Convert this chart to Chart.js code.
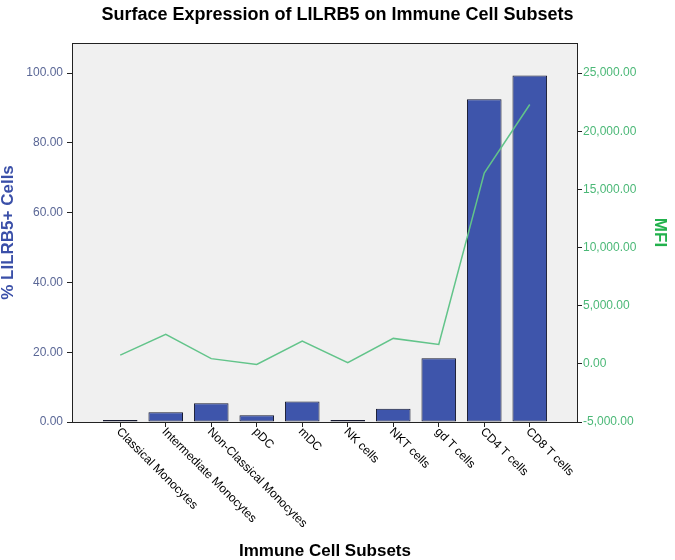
<!DOCTYPE html>
<html>
<head>
<meta charset="utf-8">
<script src="https://cdn.jsdelivr.net/npm/chart.js@4/dist/chart.umd.min.js"></script>
<style>
  body { margin: 0; background: #fff; }
  #wrap { width: 675px; height: 560px; }
</style>
</head>
<body>
<div id="wrap"><canvas id="lilrb5Chart" width="675" height="560"></canvas></div>
<script>
const categories = [
  "Classical Monocytes", "Intermediate Monocytes", "Non-Classical Monocytes",
  "pDC", "mDC", "NK cells", "NKT cells", "gd T cells", "CD4 T cells", "CD8 T cells"
];
const pctPositive = [0.2, 2.8, 5.4, 1.9, 5.9, 0.2, 3.8, 18.3, 92.5, 99.3];
const mfiValues = [750, 2530, 450, -50, 1960, 100, 2190, 1670, 16400, 22300];
const pctTicks = [0, 20, 40, 60, 80, 100];
const mfiTicks = [-5000, 0, 5000, 10000, 15000, 20000, 25000];

const FONT = "'Liberation Sans', Arial, sans-serif";

// plot background, frame and the slanted category labels
const frame = {
  id: "frame",
  beforeDraw(chart) {
    const { ctx, chartArea: a } = chart;
    ctx.save();
    ctx.fillStyle = "#fff";
    ctx.fillRect(0, 0, chart.width, chart.height);
    ctx.fillStyle = "#f0f0f0";
    ctx.fillRect(a.left, a.top, a.right - a.left, a.bottom - a.top);
    ctx.restore();
  },
  afterDraw(chart) {
    const { ctx, chartArea: a } = chart;
    const xs = chart.scales.x;
    ctx.save();
    ctx.strokeStyle = "#222";
    ctx.lineWidth = 1;
    ctx.strokeRect(Math.round(a.left) + 0.5, Math.round(a.top) + 0.5,
      Math.round(a.right - a.left) - 1, Math.round(a.bottom - a.top));
    ctx.fillStyle = "#000";
    ctx.font = "12px " + FONT;
    ctx.textAlign = "left";
    ctx.textBaseline = "middle";
    categories.forEach((c, i) => {
      const px = xs.getPixelForValue(i);
      ctx.save();
      ctx.translate(px - 2, a.bottom + 8);
      ctx.rotate(Math.PI / 4);
      ctx.fillText(c, 0, 0);
      ctx.restore();
    });
    ctx.restore();
  }
};

const ctx = document.getElementById("lilrb5Chart").getContext("2d");
new Chart(ctx, {
  type: "bar",
  data: {
    datasets: [
      {
        type: "line",
        label: "MFI",
        data: mfiValues.map((v, i) => ({ x: i, y: v })),
        yAxisID: "y1",
        borderColor: "#62c48a",
        borderWidth: 1.5,
        pointRadius: 0,
        tension: 0,
        order: 0
      },
      {
        type: "bar",
        label: "% LILRB5+ Cells",
        data: pctPositive.map((v, i) => ({ x: i, y: v })),
        yAxisID: "y",
        backgroundColor: "#3e55ab",
        borderColor: "#15182e",
        borderWidth: 1,
        borderSkipped: false,
        minBarLength: 2,
        barPercentage: 0.95,
        categoryPercentage: 0.8,
        order: 1
      }
    ]
  },
  options: {
    responsive: false,
    animation: false,
    layout: { padding: 0 },
    plugins: {
      legend: { display: false },
      tooltip: { enabled: false },
      title: {
        display: true,
        text: "Surface Expression of LILRB5 on Immune Cell Subsets",
        color: "#000",
        font: { family: FONT, size: 18, weight: "bold" },
        padding: { top: 4, bottom: 17.4 }
      }
    },
    scales: {
      x: {
        type: "linear",
        min: -1.06,
        max: 10.06,
        offset: false,
        afterBuildTicks: s => { s.ticks = categories.map((c, i) => ({ value: i })); },
        afterFit: s => { s.height = 138; },
        ticks: { display: false },
        grid: { drawOnChartArea: false, offset: false, tickLength: 5, color: "#222", tickColor: "#222" },
        border: { display: false },
        title: {
          display: true,
          text: "Immune Cell Subsets",
          color: "#000",
          font: { family: FONT, size: 17, weight: "bold", lineHeight: 1 },
          padding: { top: 0, bottom: 0.5 }
        }
      },
      y: {
        position: "left",
        min: 0,
        max: 108.6,
        afterBuildTicks: s => { s.ticks = pctTicks.map(v => ({ value: v })); },
        afterFit: s => { s.width = 72; },
        ticks: {
          color: "#5a6796",
          font: { family: FONT, size: 12 },
          padding: 4,
          callback: v => Number(v).toFixed(2)
        },
        grid: { drawOnChartArea: false, tickLength: 5, color: "#222", tickColor: "#222" },
        border: { display: false },
        title: {
          display: true,
          text: "% LILRB5+ Cells",
          color: "#3a4fa8",
          font: { family: FONT, size: 17, weight: "bold", lineHeight: 1 },
          padding: { top: 0, bottom: 0 }
        }
      },
      y1: {
        position: "right",
        min: -5000,
        max: 27590,
        afterBuildTicks: s => { s.ticks = mfiTicks.map(v => ({ value: v })); },
        afterFit: s => { s.width = 97; },
        ticks: {
          color: "#4bb877",
          font: { family: FONT, size: 12 },
          padding: 1,
          callback: v => Number(v).toLocaleString("en-US", { minimumFractionDigits: 2, maximumFractionDigits: 2 })
        },
        grid: { drawOnChartArea: false, tickLength: 4, color: "#222", tickColor: "#222" },
        border: { display: false },
        title: {
          display: true,
          text: "MFI",
          color: "#22b14c",
          font: { family: FONT, size: 17, weight: "bold", lineHeight: 1 },
          padding: { top: 7, bottom: 0 }
        }
      }
    }
  },
  plugins: [frame]
});
</script>
</body>
</html>
